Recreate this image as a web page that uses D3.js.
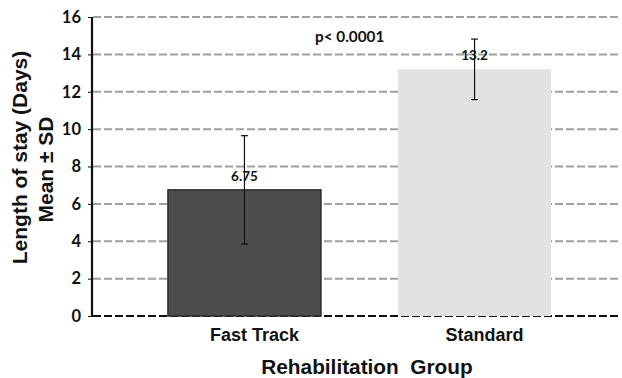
<!DOCTYPE html>
<html><head><meta charset="utf-8">
<script src="https://cdn.jsdelivr.net/npm/d3@7"></script>
<style>body{margin:0;background:#fff}svg{display:block}</style>
</head><body>
<script>
const categories = ["Fast Track", "Standard"];
const means = [6.75, 13.2];
const sds = [2.9, 1.62];
const valueLabels = ["6.75", "13.2"];
const yTicks = [0, 2, 4, 6, 8, 10, 12, 14, 16];
const barColors = ["#4d4d4d", "#e2e2e2"];
const barStrokes = ["#2e2e2e", "none"];

const W = 622, H = 378;
const svg = d3.select("body").append("svg").attr("width", W).attr("height", H);

const y = d3.scaleLinear().domain([0, 16]).range([316, 17]);
const x = d3.scaleBand().domain(categories).range([92, 627]).paddingInner(0.335).paddingOuter(0.33);

const calib = "Lato, 'Open Sans', sans-serif";
const arial = "'Liberation Sans', Arial, sans-serif";

// gridlines
svg.append("g").selectAll("line").data(yTicks.filter(d => d > 0)).join("line")
  .attr("x1", 93).attr("x2", 621).attr("y1", d => y(d)).attr("y2", d => y(d))
  .attr("stroke", "#a0a0a0").attr("stroke-width", 2).attr("stroke-dasharray", "8,3");
// baseline
svg.append("line").attr("x1", 93).attr("x2", 621).attr("y1", y(0)).attr("y2", y(0))
  .attr("stroke", "#111").attr("stroke-width", 2).attr("stroke-dasharray", "8,3");

// bars
svg.append("g").selectAll("rect").data(categories).join("rect")
  .attr("x", d => x(d)).attr("width", x.bandwidth())
  .attr("y", (d, i) => y(means[i])).attr("height", (d, i) => y(0) - y(means[i]))
  .attr("fill", (d, i) => barColors[i]).attr("stroke", (d, i) => barStrokes[i]).attr("stroke-width", 1.5);

// error bars
const eb = svg.append("g").attr("stroke", "#111").attr("stroke-width", 1.2);
categories.forEach((c, i) => {
  const cx = x(c) + x.bandwidth() / 2;
  const t = y(means[i] + sds[i]), b = y(means[i] - sds[i]);
  eb.append("line").attr("x1", cx).attr("x2", cx).attr("y1", t).attr("y2", b);
  eb.append("line").attr("x1", cx - 3.5).attr("x2", cx + 3.5).attr("y1", t).attr("y2", t);
  eb.append("line").attr("x1", cx - 3.5).attr("x2", cx + 3.5).attr("y1", b).attr("y2", b);
});

// value labels
svg.append("g").selectAll("text").data(categories).join("text")
  .attr("x", d => x(d) + x.bandwidth() / 2)
  .attr("y", (d, i) => i === 0 ? 181 : 60)
  .attr("text-anchor", "middle")
  .attr("font-family", calib).attr("font-weight", "bold").attr("font-size", 13.5)
  .attr("fill", "#111")
  .text((d, i) => valueLabels[i]);

// p value
svg.append("text").attr("x", 315).attr("y", 42)
  .attr("font-family", calib).attr("font-weight", "bold").attr("font-size", 15.3)
  .attr("fill", "#111").text("p< 0.0001");

// y axis
const yAxis = d3.axisLeft(y).tickValues(yTicks).tickSize(4).tickPadding(7);
const ga = svg.append("g").attr("transform", "translate(92,0)").call(yAxis);
ga.select(".domain").attr("stroke", "#111").attr("stroke-width", 2.2).attr("d", `M0,${y(16)}V${y(0)+1}`);
ga.selectAll(".tick line").attr("stroke", "#111").attr("stroke-width", 1);
ga.selectAll(".tick text").attr("font-family", calib).attr("font-weight", "bold")
  .attr("font-size", 16.5).attr("fill", "#111");

// x labels
svg.append("g").selectAll("text").data(categories).join("text")
  .attr("x", d => x(d) + x.bandwidth() / 2 + 10).attr("y", 341)
  .attr("text-anchor", "middle")
  .attr("font-family", arial).attr("font-weight", "bold").attr("font-size", 18)
  .attr("fill", "#111").text(d => d);

svg.append("text").attr("x", 367).attr("y", 374).attr("text-anchor", "middle")
  .attr("font-family", arial).attr("font-weight", "bold").attr("font-size", 20.8)
  .attr("fill", "#111").style("white-space", "pre").text("Rehabilitation  Group");

// y title
svg.append("text").attr("transform", "translate(27,157.5) rotate(-90)").attr("text-anchor", "middle")
  .attr("font-family", arial).attr("font-weight", "bold").attr("font-size", 21)
  .attr("fill", "#111").text("Length of stay (Days)");
svg.append("text").attr("transform", "translate(53,169.5) rotate(-90)").attr("text-anchor", "middle")
  .attr("font-family", arial).attr("font-weight", "bold").attr("font-size", 21)
  .attr("fill", "#111").text("Mean ± SD");
</script>
</body></html>
